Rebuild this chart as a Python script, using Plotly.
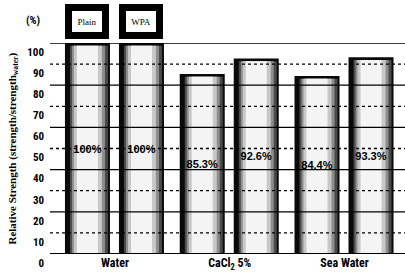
import plotly.graph_objects as go

categories = ["Water", "CaCl<sub>2</sub> 5%", "Sea Water"]
series_names = ["Plain", "WPA"]
plain_values = [100.0, 85.3, 84.4]
wpa_values = [100.0, 92.6, 93.3]
plain_labels = ["100%", "85.3%", "84.4%"]
wpa_labels = ["100%", "92.6%", "93.3%"]
y_ticks = [0, 10, 20, 30, 40, 50, 60, 70, 80, 90, 100]

PX = 1 / 114.75  # category units per pixel
BAR_W = 45 * PX
OFFSETS = [-50 * PX, 4 * PX]

# shading layers: (inset left px, inset right px, colour, top inset in data units)
layers = [
    (0, 0, "#0a0a0a", 0.0),
    (5, 2, "#4a4a4a", 1.3),
    (7, 5, "#8e8e8e", 1.3),
    (9, 8, "#c8c8c8", 1.3),
    (12, 12, "#f4f4f4", 1.3),
]

NARROW = "Liberation Sans Narrow, Arial Narrow, Roboto Condensed, Liberation Sans, sans-serif"

fig = go.Figure()
for s, (vals, labels, off) in enumerate(zip([plain_values, wpa_values],
                                             [plain_labels, wpa_labels], OFFSETS)):
    for li, (il, ir, col, top) in enumerate(layers):
        fig.add_trace(go.Bar(
            x=categories, y=[v - top for v in vals],
            offset=off + il * PX, width=BAR_W - (il + ir) * PX,
            marker=dict(color=col, line=dict(width=0)),
            showlegend=False, hoverinfo="skip", name=series_names[s],
        ))
    fig.add_trace(go.Bar(
        x=categories, y=vals, offset=off, width=BAR_W,
        marker=dict(color="rgba(0,0,0,0)", line=dict(width=0)),
        text=labels, textposition="inside", insidetextanchor="middle",
        constraintext="none",
        textfont=dict(family="Liberation Sans, Arial, sans-serif", size=11,
                      color="black", weight="bold"),
        showlegend=False, name=series_names[s],
    ))

# gridlines over the bars
for v in y_ticks:
    fig.add_hline(y=v, line=dict(color="black",
                                 width=2 if v == 0 else 1.3,
                                 dash="solid" if v % 20 == 0 else "dot"),
                  layer="above")

# legend-style boxes above the Water bars
for s, name in enumerate(series_names):
    fig.add_annotation(
        x=categories[0], xref="x", xshift=(OFFSETS[s] + BAR_W / 2) / PX,
        y=1.104, yref="paper", yanchor="middle", xanchor="center",
        text=name, showarrow=False, width=30, height=21,
        bgcolor="white", bordercolor="black", borderwidth=7, borderpad=0,
        font=dict(family="Liberation Serif, serif", size=9, color="black"),
    )

fig.add_annotation(x=-0.022, xref="paper", y=1.145, yref="paper",
                   text="(%)", showarrow=False, xanchor="right",
                   font=dict(family=NARROW, size=11, color="black", weight="bold"))
fig.add_annotation(x=-0.107, xref="paper", y=0.5, yref="paper", textangle=-90,
                   text="Relative Strength (strength/strength<sub>water</sub>)",
                   showarrow=False, xanchor="center", yanchor="middle",
                   font=dict(family="Liberation Serif, Times New Roman, serif",
                             size=11, color="black", weight="bold"))

fig.update_layout(
    width=405, height=279, barmode="overlay",
    margin=dict(l=50, r=0, t=43, b=25),
    paper_bgcolor="white", plot_bgcolor="white",
    showlegend=False,
)
fig.update_xaxes(type="category", range=[-0.566, 2.527], showgrid=False,
                 showline=False, ticks="", zeroline=False, automargin=False,
                 ticklabelstandoff=0,
                 tickfont=dict(family=NARROW, size=12, color="black", weight="bold"))
fig.update_yaxes(range=[0, 100], tickvals=y_ticks, showgrid=False,
                 showline=False, zeroline=False, ticks="", automargin=False,
                 ticklabelshift=9, ticklabelstandoff=5,
                 tickfont=dict(family=NARROW, size=11, color="black", weight="bold"))

fig.write_html("out.html", config={"displayModeBar": False},
               post_script="document.body.style.margin='0';document.body.style.overflow='hidden';")
